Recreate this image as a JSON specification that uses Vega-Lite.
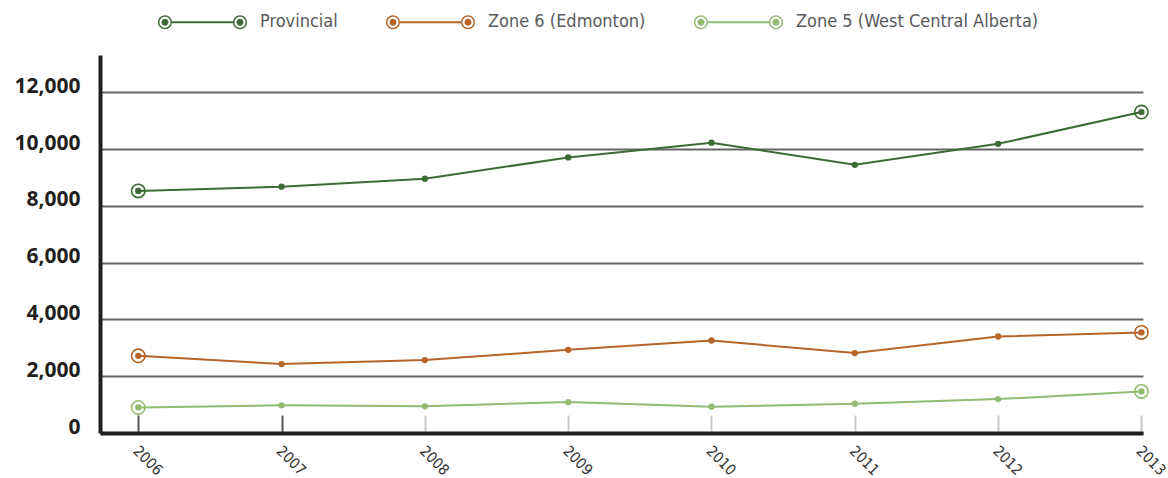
{
  "$schema": "https://vega.github.io/schema/vega-lite/v6.json",
  "width": 1043,
  "height": 378,
  "autosize": {"type": "none"},
  "padding": {"left": 100, "top": 55, "right": 25, "bottom": 45},
  "background": "white",
  "config": {"view": {"stroke": null}},
  "data": {
    "values": [
      {"year": 2006, "region": "Provincial", "value": 8530},
      {"year": 2007, "region": "Provincial", "value": 8680},
      {"year": 2008, "region": "Provincial", "value": 8960},
      {"year": 2009, "region": "Provincial", "value": 9710},
      {"year": 2010, "region": "Provincial", "value": 10230},
      {"year": 2011, "region": "Provincial", "value": 9450},
      {"year": 2012, "region": "Provincial", "value": 10190},
      {"year": 2013, "region": "Provincial", "value": 11310},
      {"year": 2006, "region": "Zone 6 (Edmonton)", "value": 2720},
      {"year": 2007, "region": "Zone 6 (Edmonton)", "value": 2430},
      {"year": 2008, "region": "Zone 6 (Edmonton)", "value": 2570},
      {"year": 2009, "region": "Zone 6 (Edmonton)", "value": 2930},
      {"year": 2010, "region": "Zone 6 (Edmonton)", "value": 3260},
      {"year": 2011, "region": "Zone 6 (Edmonton)", "value": 2815},
      {"year": 2012, "region": "Zone 6 (Edmonton)", "value": 3400},
      {"year": 2013, "region": "Zone 6 (Edmonton)", "value": 3545},
      {"year": 2006, "region": "Zone 5 (West Central Alberta)", "value": 900},
      {"year": 2007, "region": "Zone 5 (West Central Alberta)", "value": 975},
      {"year": 2008, "region": "Zone 5 (West Central Alberta)", "value": 940},
      {"year": 2009, "region": "Zone 5 (West Central Alberta)", "value": 1090},
      {"year": 2010, "region": "Zone 5 (West Central Alberta)", "value": 925},
      {"year": 2011, "region": "Zone 5 (West Central Alberta)", "value": 1030},
      {"year": 2012, "region": "Zone 5 (West Central Alberta)", "value": 1195},
      {"year": 2013, "region": "Zone 5 (West Central Alberta)", "value": 1465}
    ]
  },
  "encoding": {
    "x": {
      "field": "year",
      "type": "quantitative",
      "scale": {"domain": [2005.733, 2013.011], "nice": false, "zero": false},
      "axis": {
        "values": [2006, 2007, 2008, 2009, 2010, 2011, 2012, 2013],
        "format": "d",
        "title": null,
        "grid": false,
        "domain": true,
        "domainColor": "#231f20",
        "domainWidth": 4,
        "ticks": true,
        "tickSize": -18,
        "tickWidth": 2,
        "tickColor": {"condition": {"test": "datum.value <= 2007", "value": "#58595b"}, "value": "#c8c8c8"},
        "labelAngle": 45,
        "labelOffset": 2,
        "labelFont": "Liberation Sans Narrow, DejaVu Sans Condensed, sans-serif",
        "labelFontSize": 15,
        "labelColor": "#333333",
        "labelPadding": 28
      }
    },
    "y": {
      "field": "value",
      "type": "quantitative",
      "scale": {"domain": [0, 13320], "nice": false},
      "axis": {
        "values": [0, 2000, 4000, 6000, 8000, 10000, 12000],
        "format": ",d",
        "title": null,
        "grid": true,
        "gridColor": "#666666",
        "gridWidth": 2,
        "ticks": false,
        "domain": true,
        "domainColor": "#231f20",
        "domainWidth": 4,
        "labelFont": "Open Sans",
        "labelFontWeight": "bold",
        "labelFontSize": 21,
        "labelColor": "#231f20",
        "labelPadding": 20,
        "labelOffset": -6
      }
    },
    "color": {
      "field": "region",
      "type": "nominal",
      "scale": {
        "domain": ["Provincial", "Zone 6 (Edmonton)", "Zone 5 (West Central Alberta)"],
        "range": ["#3d6b35", "#b5652a", "#93bb72"]
      },
      "legend": {
        "title": null,
        "orient": "none",
        "direction": "horizontal",
        "legendX": 58,
        "legendY": -77.5,
        "padding": 0,
        "columnPadding": 48,
        "symbolType": "M-1,0 A0.157,0.157 0 1 0 -0.686,0 A0.157,0.157 0 1 0 -1,0 Z M-0.967,0 A0.124,0.124 0 1 1 -0.719,0 A0.124,0.124 0 1 1 -0.967,0 Z M-0.922,0 A0.079,0.079 0 1 0 -0.764,0 A0.079,0.079 0 1 0 -0.922,0 Z M0.686,0 A0.157,0.157 0 1 0 1,0 A0.157,0.157 0 1 0 0.686,0 Z M0.719,0 A0.124,0.124 0 1 1 0.967,0 A0.124,0.124 0 1 1 0.719,0 Z M0.764,0 A0.079,0.079 0 1 0 0.922,0 A0.079,0.079 0 1 0 0.764,0 Z M-0.686,-0.0225 L0.686,-0.0225 L0.686,0.0225 L-0.686,0.0225 Z",
        "symbolSize": 7921,
        "symbolStrokeWidth": 0,
        "symbolOpacity": 1,
        "labelFont": "Liberation Sans Narrow, DejaVu Sans Condensed, sans-serif",
        "labelFontSize": 18,
        "labelColor": "#58595b",
        "labelOffset": 13,
        "labelLimit": 500,
        "encode": {"symbols": {"update": {"fill": {"scale": "color", "field": "value"}, "fillOpacity": {"value": 1}, "strokeWidth": {"value": 0}}}}
      }
    }
  },
  "layer": [
    {"mark": {"type": "line", "strokeWidth": 2}},
    {"mark": {"type": "point", "filled": true, "size": 40, "opacity": 1}},
    {
      "transform": [{"filter": "datum.year == 2006 || datum.year == 2013"}],
      "mark": {"type": "point", "filled": false, "size": 180, "strokeWidth": 1.6, "opacity": 1}
    }
  ]
}
